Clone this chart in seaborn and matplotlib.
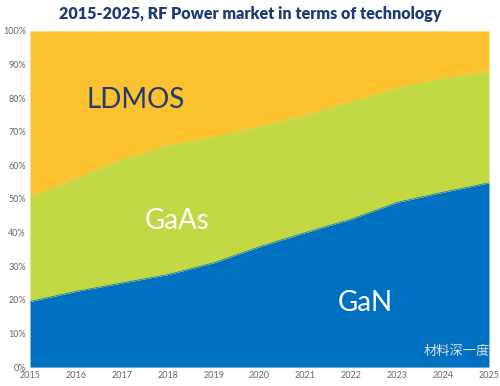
import matplotlib
matplotlib.use("Agg")
import matplotlib.pyplot as plt
import seaborn as sns
import numpy as np

years = [2015, 2016, 2017, 2018, 2019, 2020, 2021, 2022, 2023, 2024, 2025]
gan = [19.5, 22.5, 25.0, 27.5, 31.0, 35.8, 40.0, 44.0, 49.0, 52.0, 54.8]
gaas_top = [50.6, 56.0, 61.8, 65.8, 68.5, 71.5, 75.0, 79.0, 83.0, 86.0, 87.8]
gaas = [t - g for t, g in zip(gaas_top, gan)]
ldmos = [100 - t for t in gaas_top]
ytick_vals = list(range(0, 101, 10))
ytick_labels = [f"{v}%" for v in ytick_vals]

sns.set_theme(style="white")
plt.rcParams['font.family'] = ['Lato', 'Noto Sans CJK SC', 'DejaVu Sans']

fig = plt.figure(figsize=(5.0, 3.86), dpi=100)
ax = fig.add_axes([0.06, 0.049, 0.918, 0.871])

colors = ["#0070C0", "#C1D842", "#FCC12F"]
ax.stackplot(years, gan, gaas, ldmos, colors=colors, linewidth=0)
sns.lineplot(x=years, y=gan, ax=ax, color=colors[0], linewidth=0.5)
sns.lineplot(x=years, y=gaas_top, ax=ax, color=colors[1], linewidth=0.5)

ax.set_xlim(2015, 2025)
ax.set_ylim(0, 100)
ax.set_xticks(years)
ax.set_xticklabels([str(y) for y in years], fontsize=6.5, color="#666666")
ax.set_yticks(ytick_vals)
ax.set_yticklabels(ytick_labels, fontsize=6.5, color="#666666")
ax.tick_params(axis='both', length=0, pad=3)
for s in ax.spines.values():
    s.set_visible(False)

ax.text(2017.3, 79.5, "LDMOS", fontsize=20, color="#1F3B73", ha="center", va="center")
ax.text(2018.2, 43.6, "GaAs", fontsize=20, color="white", ha="center", va="center")
ax.text(2022.3, 19.2, "GaN", fontsize=20, color="white", ha="center", va="center")

fig.text(0.5, 0.965, "2015-2025, RF Power market in terms of technology",
         fontsize=11.6, fontweight="heavy", color="#1F3B73", ha="center", va="center")
ax.text(2024.3, 4.5, "材料深一度", fontsize=9.5, color="#E0E0E0", ha="center", va="center",
        family=['Noto Sans CJK SC', 'DejaVu Sans'])

fig.savefig("out.png", dpi=100)
